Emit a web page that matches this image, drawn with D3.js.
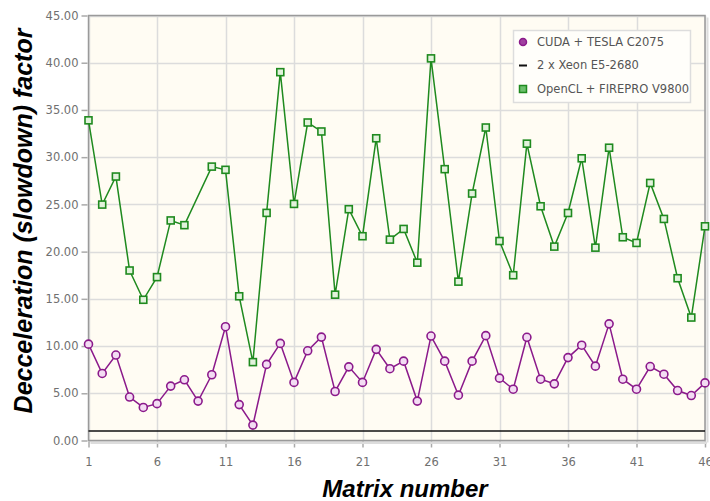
<!DOCTYPE html>
<html><head><meta charset="utf-8">
<script src="https://cdn.jsdelivr.net/npm/d3@7/dist/d3.min.js"></script>
<style>body{margin:0;background:#fff}</style>
</head><body><svg id="c" width="710" height="501"></svg>
<script>
const matrices = d3.range(1, 47);
const cudaTesla = [10.2,7.1,9.05,4.6,3.5,3.9,5.76,6.43,4.17,6.96,12.05,3.8,1.63,8.06,10.28,6.15,
  9.5,10.95,5.19,7.8,6.15,9.65,7.6,8.4,4.17,11.06,8.4,4.8,8.4,11.1,6.6,5.43,10.93,6.49,6.0,8.78,
  10.09,7.87,12.35,6.49,5.43,7.83,7.02,5.29,4.76,6.1];
const xeon = matrices.map(() => 1.0);
const openclFirepro = [33.9,24.98,27.95,18.0,14.9,17.3,23.3,22.8,null,29.0,28.66,15.27,8.3,24.1,39.0,25.05,
  33.67,32.72,15.44,24.49,21.63,32.0,21.27,22.4,18.83,40.46,28.73,16.82,26.15,33.14,21.12,17.5,31.43,24.8,20.53,24.09,
  29.88,20.42,31.0,21.52,20.92,27.27,23.46,17.18,13.02,22.68];
const yTicks = [0,5,10,15,20,25,30,35,40,45];
const xTicks = [1,6,11,16,21,26,31,36,41,46];
const seriesNames = ["CUDA + TESLA C2075","2 x Xeon E5-2680","OpenCL + FIREPRO V9800"];

const svg = d3.select("#c");
const L = 88.5, R = 705, T = 15.5, B = 440.5;
const x = d3.scaleLinear().domain([1,46]).range([L, R]);
const y = d3.scaleLinear().domain([0,45]).range([B, T]);

svg.append("rect").attr("x",L).attr("y",T).attr("width",R-L).attr("height",B-T).attr("fill","#fffcf3");
svg.append("g").selectAll("line").data(yTicks).join("line")
  .attr("x1",L).attr("x2",R).attr("y1",d=>Math.round(y(d))+0.5).attr("y2",d=>Math.round(y(d))+0.5)
  .attr("stroke","#dcdcdc").attr("stroke-width",1.5);
svg.append("g").selectAll("line").data(xTicks).join("line")
  .attr("y1",T).attr("y2",B).attr("x1",d=>Math.round(x(d))+0.5).attr("x2",d=>Math.round(x(d))+0.5)
  .attr("stroke","#dcdcdc").attr("stroke-width",1.5);

const yAxis = d3.axisLeft(y).tickValues(yTicks).tickFormat(d3.format(".2f")).tickSize(6).tickPadding(3);
const gy = svg.append("g").attr("transform",`translate(${L-1},0)`).call(yAxis);
const xAxis = d3.axisBottom(x).tickValues(xTicks).tickSize(6).tickPadding(10);
const gx = svg.append("g").attr("transform",`translate(0,${B+1})`).call(xAxis);
[gy,gx].forEach(g=>{
  g.select(".domain").remove();
  g.selectAll("line").attr("stroke","#aaa").attr("stroke-width",1.5);
  g.selectAll("text").attr("fill","#707070").attr("font-family","DejaVu Sans").attr("font-size",11.5);
});

svg.append("line").attr("x1",L+2).attr("x2",R+2).attr("y1",B+2.5).attr("y2",B+2.5).attr("stroke","#ddd").attr("stroke-width",2);
svg.append("line").attr("x1",R+2.5).attr("x2",R+2.5).attr("y1",T+2).attr("y2",B+2).attr("stroke","#ddd").attr("stroke-width",2);
svg.append("rect").attr("x",L).attr("y",T).attr("width",R-L).attr("height",B-T)
  .attr("fill","none").attr("stroke","#9a9a9a").attr("stroke-width",1.5);

const line = d3.line().defined(d=>d.v!=null).x(d=>x(d.m)).y(d=>y(d.v));
const toPts = arr => matrices.map((m,i)=>({m, v: arr[i]}));

svg.append("path").datum(toPts(xeon)).attr("d",line).attr("fill","none").attr("stroke","#111").attr("stroke-width",1.5);

const purple = "#8b1a8b", green = "#1f8a1f";
const cpts = toPts(cudaTesla);
svg.append("path").datum(cpts).attr("d",line).attr("fill","none").attr("stroke",purple).attr("stroke-width",1.5);
svg.append("g").selectAll("circle").data(cpts).join("circle")
  .attr("cx",d=>x(d.m)).attr("cy",d=>y(d.v)).attr("r",4)
  .attr("fill","#f3dcf3").attr("stroke",purple).attr("stroke-width",1.6);

const opts = toPts(openclFirepro).filter(d=>d.v!=null);
svg.append("path").datum(opts).attr("d",line).attr("fill","none").attr("stroke",green).attr("stroke-width",1.5);
svg.append("g").selectAll("rect").data(opts).join("rect")
  .attr("x",d=>x(d.m)-3.5).attr("y",d=>y(d.v)-3.5).attr("width",7).attr("height",7)
  .attr("fill","#e2f2dc").attr("stroke",green).attr("stroke-width",1.6);

const lg = svg.append("g");
lg.append("rect").attr("x",513.5).attr("y",30.5).attr("width",177).attr("height",72)
  .attr("fill","#fffefa").attr("stroke","#ddd").attr("stroke-width",1.5);
const rowsY = [42,65,89];
seriesNames.forEach((n,i)=>{
  const cy = rowsY[i];
  if(i===0) lg.append("circle").attr("cx",523).attr("cy",cy).attr("r",3.5).attr("fill","#a040a0").attr("stroke",purple).attr("stroke-width",1.5);
  if(i===1) lg.append("line").attr("x1",519).attr("x2",527).attr("y1",cy+0.5).attr("y2",cy+0.5).attr("stroke","#111").attr("stroke-width",2);
  if(i===2) lg.append("rect").attr("x",519.5).attr("y",cy-3.5).attr("width",7).attr("height",7).attr("fill","#6cc06c").attr("stroke",green).attr("stroke-width",1.5);
  lg.append("text").attr("x",537).attr("y",cy+4).text(n)
    .attr("font-family","DejaVu Sans").attr("font-size",11.5).attr("fill","#555");
});

svg.append("text").attr("x",405).attr("y",497).attr("text-anchor","middle")
  .attr("font-family","Liberation Sans").attr("font-weight","bold").attr("font-style","italic").attr("font-size",24)
  .attr("fill","#000").text("Matrix number");
svg.append("text").attr("transform","translate(32,221) rotate(-90)").attr("text-anchor","middle")
  .attr("font-family","Liberation Sans").attr("font-weight","bold").attr("font-style","italic").attr("font-size",25)
  .attr("fill","#000").text("Decceleration (slowdown) factor");
</script></body></html>
